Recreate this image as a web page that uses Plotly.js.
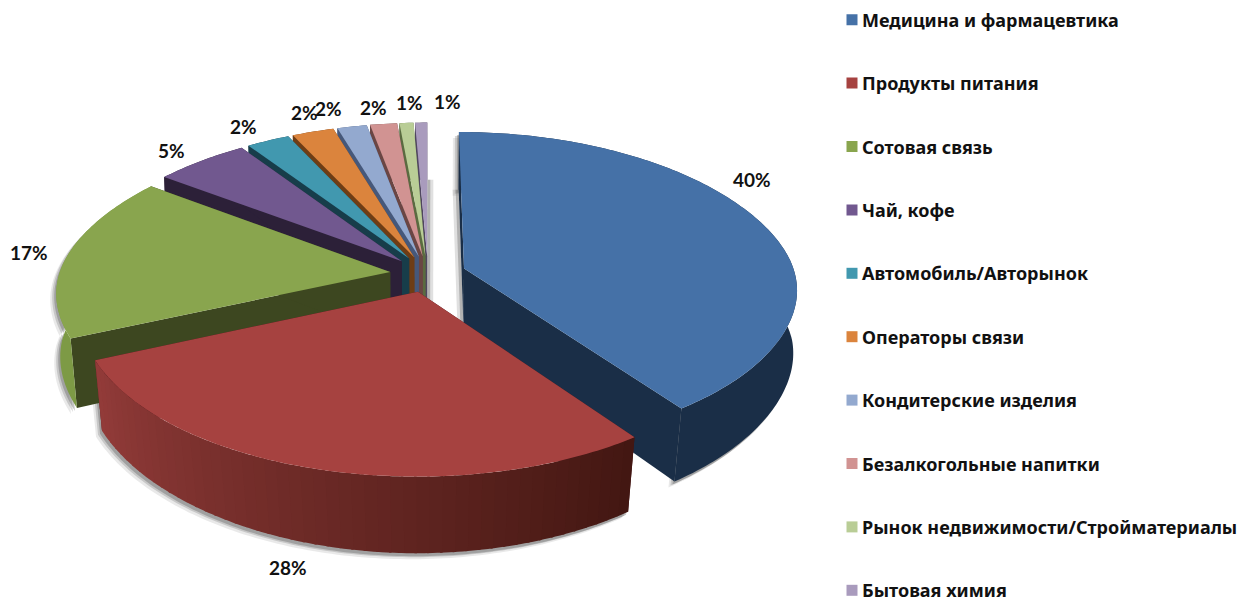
<!DOCTYPE html>
<html>
<head>
<meta charset="utf-8">
<script src="https://cdn.plot.ly/plotly-3.0.1.min.js"></script>
<style>
html,body{margin:0;padding:0;background:#fff}
#chart{width:1242px;height:598px}
.legend .legendsymbols{transform:translateX(10px)}
.legend .scrollbox{transform:translateY(1.5px)}
</style>
</head>
<body>
<div id="chart"></div>
<script>
// ---- data ----
const categories = ['Медицина и фармацевтика','Продукты питания','Сотовая связь','Чай, кофе','Автомобиль/Авторынок','Операторы связи','Кондитерские изделия','Безалкогольные напитки','Рынок недвижимости/Стройматериалы','Бытовая химия'];
const shares = [40, 28.4, 16.7, 5.3, 2.45, 2.4, 1.7, 1.55, 0.8, 0.7];

// ---- styles ----
const topColors  = ['#4571a7','#a64240','#89a54e','#71588f','#4198af','#db843d','#93a9cf','#d19392','#b9cd96','#a99bbd'];
const cutColors  = ['#1a2e47','#45171a','#3d4720','#2c2038','#173d4a','#6e3d15','#46587a','#6a4644','#5a6b40','#504660'];
const arcFrom    = ['#1a2e47','#431712','#7d9a45','#2c2038','#173d4a','#6e3d15','#46587a','#6a4644','#5a6b40','#504660'];
const arcTo      = ['#1a2e47','#943c3a','#7d9a45','#2c2038','#173d4a','#6e3d15','#46587a','#6a4644','#5a6b40','#504660'];
const labelAnchors = [[752,179],[288,567],[29,252],[171,150],[243,126],[304,112],[328,108],[373,107],[409,102],[447,101]];

// ---- projection of the tilted, exploded pie ----
const CX=428, CY=274, RX=331, RY=157, EXPLODE=0.115, DEPTH=66;
const PX_NEAR=0.115, PX_FAR=0.165, PY_NEAR=0.125, PY_FAR=0.14;
const rad = d => d*Math.PI/180;
const total = shares.reduce((a,b)=>a+b,0);
let acc = 0;
const slices = shares.map(v => { const a0=acc/total*360; acc+=v; const a1=acc/total*360; return {a0,a1,mid:(a0+a1)/2}; });

function persp(near,far,v){
  const p=(near+far)/2+(near-far)/2*Math.tanh(3*v);
  return 1/(1-p*v);
}
function pt(sl, ang, r, low){
  const u = EXPLODE*Math.sin(rad(sl.mid)) + r*Math.sin(rad(ang));
  const v = -EXPLODE*Math.cos(rad(sl.mid)) - r*Math.cos(rad(ang));
  const sx = persp(PX_NEAR,PX_FAR,v), sy = persp(PY_NEAR,PY_FAR,v);
  let x = CX+RX*u*sx, y = CY+RY*v*sy;
  if(low){ x = CX+(x-CX)*(1-0.008-0.025*Math.max(v,0)); y += DEPTH*sy; }
  return [x,y];
}
function poly(points,color,extra){
  return Object.assign({type:'scatter',mode:'none',x:points.map(p=>p[0]),y:points.map(p=>p[1]),fill:'toself',fillcolor:color,showlegend:false,hoverinfo:'skip'},extra||{});
}
function arcBand(sl,a0,a1,dx,dy){
  const up=[],dn=[];
  const n=Math.max(1,Math.ceil((a1-a0)));
  for(let i=0;i<=n;i++){ const a=a0+(a1-a0)*i/n; up.push(pt(sl,a,1,false)); dn.push(pt(sl,a,1,true)); }
  return up.concat(dn.reverse()).map(p=>[p[0]+(dx||0),p[1]+(dy||0)]);
}
function hex(c){return [1,3,5].map(i=>parseInt(c.substr(i,2),16));}
function mix(a,b,t){const A=hex(a),B=hex(b);return 'rgb('+A.map((q,i)=>Math.round(q+(B[i]-q)*t)).join(',')+')';}

const traces=[];
// soft shadow below the outer wall
[[-6,6,'rgba(120,120,120,0.16)'],[-4,4,'rgba(110,110,110,0.28)'],[-2,3,'rgba(90,90,90,0.35)']].forEach(sh=>{
  [0,1,2].forEach(i=>{
    const sl=slices[i];
    traces.push(poly(arcBand(sl,sl.a0,sl.a1,sh[0],sh[1]),sh[2]));
  });
});
// shadows beside the gap at the top
const lastSl=slices[9], firstSl=slices[0];
[[6,'rgba(130,130,130,0.25)'],[3,'rgba(110,110,110,0.4)']].forEach(sh=>{
  const a=pt(lastSl,lastSl.a1,1,true), b=pt(lastSl,lastSl.a1,0,true);
  traces.push(poly([a,[a[0]+sh[0],a[1]],[b[0]+sh[0],b[1]],b],sh[1]));
  const c=pt(firstSl,firstSl.a0,1,true), d=pt(firstSl,firstSl.a0,0,true);
  traces.push(poly([c,[c[0]-sh[0],c[1]],[d[0]-sh[0],d[1]],d],sh[1]));
});
// walls, back to front
const wallOrder=[9,8,7,6,5,4,3,2,0,1];
wallOrder.forEach(i=>{
  const sl=slices[i];
  [sl.a0,sl.a1].forEach(a=>{
    traces.push(poly([pt(sl,a,0,false),pt(sl,a,1,false),pt(sl,a,1,true),pt(sl,a,0,true)],cutColors[i]));
  });
  if(arcFrom[i]===arcTo[i]){
    traces.push(poly(arcBand(sl,sl.a0,sl.a1),arcFrom[i]));
  } else {
    const step=2;
    for(let a=sl.a0;a<sl.a1;a+=step){
      const t=(a-sl.a0)/(sl.a1-sl.a0);
      traces.push(poly(arcBand(sl,a,Math.min(a+step+0.4,sl.a1)),mix(arcFrom[i],arcTo[i],t)));
    }
  }
});
// top faces
slices.forEach((sl,i)=>{
  const pts=[pt(sl,sl.a0,0,false)];
  const n=Math.max(2,Math.ceil(sl.a1-sl.a0));
  for(let k=0;k<=n;k++) pts.push(pt(sl,sl.a0+(sl.a1-sl.a0)*k/n,1,false));
  traces.push(poly(pts,topColors[i],{name:categories[i]}));
});
// legend entries
categories.forEach((c,i)=>{
  traces.push({type:'scatter',mode:'markers',x:[null],y:[null],name:c,legendgroup:'g'+i,showlegend:true,hoverinfo:'skip',
    marker:{symbol:'square',size:11,color:topColors[i]}});
});

const annotations=shares.map((v,i)=>({
  x:labelAnchors[i][0],y:labelAnchors[i][1],xref:'x',yref:'y',showarrow:false,
  text:Math.round(v/total*100)+'%',
  font:{family:'Lato, "Open Sans", sans-serif',size:19,color:'#111',weight:700}
}));

const layout={
  width:1242,height:598,margin:{l:0,r:0,t:0,b:0,autoexpand:false},paper_bgcolor:'#fff',plot_bgcolor:'#fff',
  xaxis:{range:[0,1242],visible:false,fixedrange:true},
  yaxis:{range:[598,0],visible:false,fixedrange:true},
  showlegend:true,
  legend:{x:822/1242,xanchor:'left',y:1,yanchor:'top',tracegroupgap:37,maxheight:900,
    font:{family:'"Noto Sans", sans-serif',size:18,color:'#111',weight:700},
    bgcolor:'rgba(0,0,0,0)',itemclick:false,itemdoubleclick:false},
  annotations:annotations,
  hovermode:false
};
Plotly.newPlot('chart',traces,layout,{displayModeBar:false});
</script>
</body>
</html>
